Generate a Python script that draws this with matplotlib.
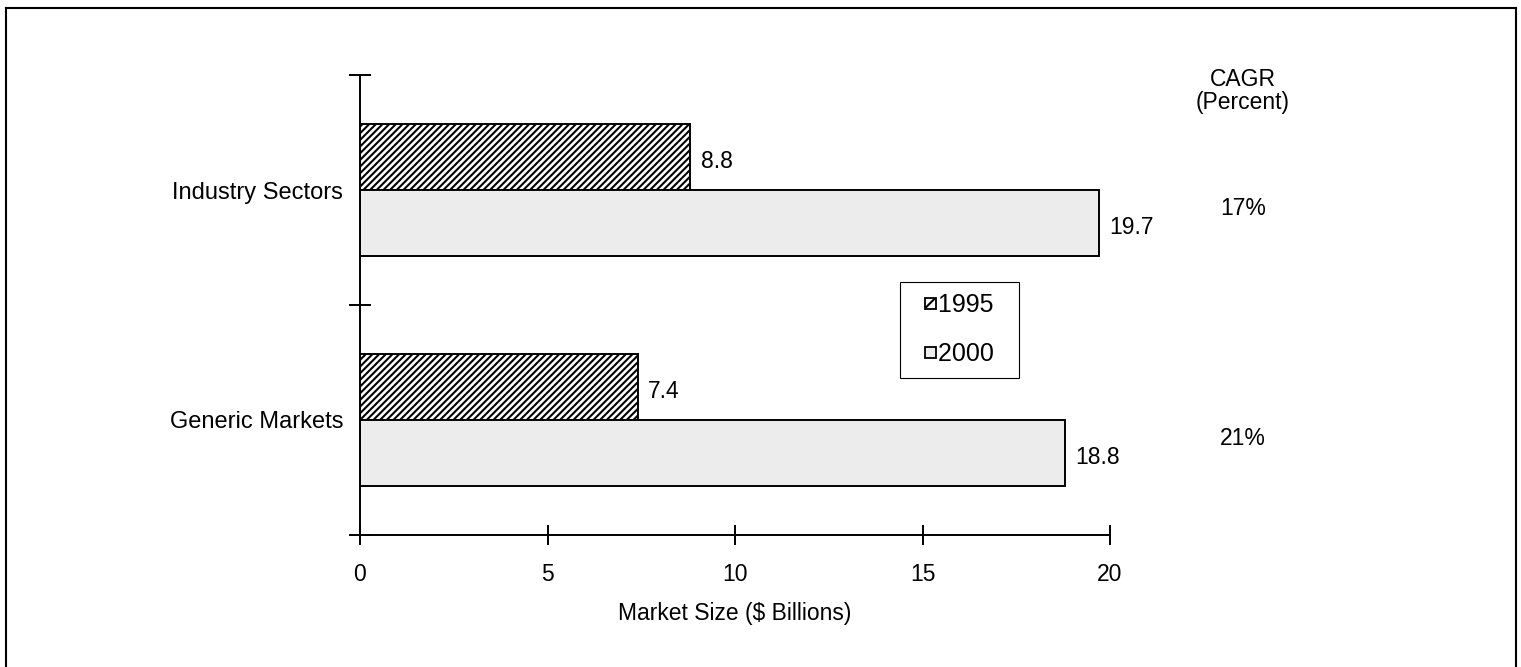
import matplotlib
matplotlib.use("Agg")
import matplotlib.pyplot as plt
from matplotlib.patches import Patch, Rectangle
from matplotlib.legend_handler import HandlerPatch
from matplotlib.lines import Line2D
import numpy as np

categories = ["Generic Markets", "Industry Sectors"]
values_1995 = [7.4, 8.8]
values_2000 = [18.8, 19.7]
cagr = ["21%", "17%"]
years = ["1995", "2000"]

plt.rcParams['font.family'] = ['Liberation Sans', 'DejaVu Sans']
plt.rcParams['hatch.linewidth'] = 1.5

fig = plt.figure(figsize=(15.21, 6.67), dpi=100)
ax = fig.add_axes([360/1521, 1-535/667, 750/1521, 460/667])

y = np.arange(len(categories))
h = 0.287
ax.barh(y + h/2, values_1995, height=h, facecolor='white', edgecolor='black',
        hatch='/////', linewidth=1.4)
ax.barh(y - h/2, values_2000, height=h, facecolor='#ececec', edgecolor='black',
        linewidth=1.4)

for yy, v in zip(y, values_1995):
    ax.text(v + 0.28, yy + h/2 - 0.02, f"{v}", va='center', ha='left', fontsize=16.5)
for yy, v in zip(y, values_2000):
    ax.text(v + 0.28, yy - h/2 - 0.02, f"{v}", va='center', ha='left', fontsize=16.5)

ax.set_xlim(0, 20)
ax.set_ylim(-0.5, 1.5)
ax.set_xticks([0, 5, 10, 15, 20])
ax.tick_params(axis='x', direction='inout', length=14, width=1.4, labelsize=16.5, pad=13)
ax.set_yticks(y, categories)
ax.tick_params(axis='y', which='major', length=0, labelsize=17, pad=12)
ax.set_yticks([-0.5, 0.5, 1.5], minor=True)
ax.tick_params(axis='y', which='minor', direction='inout', length=16, width=1.4)
ax.set_xlabel("Market Size ($ Billions)", fontsize=16.5, labelpad=12)

for s in ['top', 'right']:
    ax.spines[s].set_visible(False)
for s in ['left', 'bottom']:
    ax.spines[s].set_linewidth(1.4)

# CAGR column
cx = 1243/1521
fig.text(cx, 1-80/667, "CAGR", ha='center', va='center', fontsize=16.5)
fig.text(cx, 1-103/667, "(Percent)", ha='center', va='center', fontsize=16.5)
for yy, c in zip(y, cagr):
    ypix = ax.transData.transform((0, yy - 0.08))[1]
    fig.text(cx, ypix / fig.bbox.height, c, ha='center', va='center', fontsize=16.5)


# small square legend keys, pushed to the right of the handle box
def small_key(legend, orig_handle, xdescent, ydescent, width, height, fontsize):
    s = 8.0
    return Rectangle((width - s - xdescent, (height - s) / 2 - ydescent), s, s)


handles = [Patch(facecolor='white', edgecolor='black', hatch='///', linewidth=1.3),
           Patch(facecolor='#ececec', edgecolor='black', linewidth=1.3)]
leg = fig.legend(handles, [t + "  " for t in years], loc='upper left',
                 bbox_to_anchor=(900/1521, 1-282/667),
                 handler_map={Patch: HandlerPatch(patch_func=small_key)},
                 fontsize=18, handlelength=1.0, handleheight=0.7, handletextpad=0.08,
                 labelspacing=1.0, borderpad=0.45, borderaxespad=0, fancybox=False,
                 framealpha=1, edgecolor='black')
leg.get_frame().set_linewidth(0.8)

# outer frame
for xs, ys in [([6/1521, 6/1521], [0, 1-8/667]),
               ([6/1521, 1516/1521], [1-8/667, 1-8/667]),
               ([1516/1521, 1516/1521], [1-8/667, 0])]:
    fig.add_artist(Line2D(xs, ys, color='black', linewidth=1.5, transform=fig.transFigure))

fig.savefig("out.png", dpi=100, facecolor='white')
